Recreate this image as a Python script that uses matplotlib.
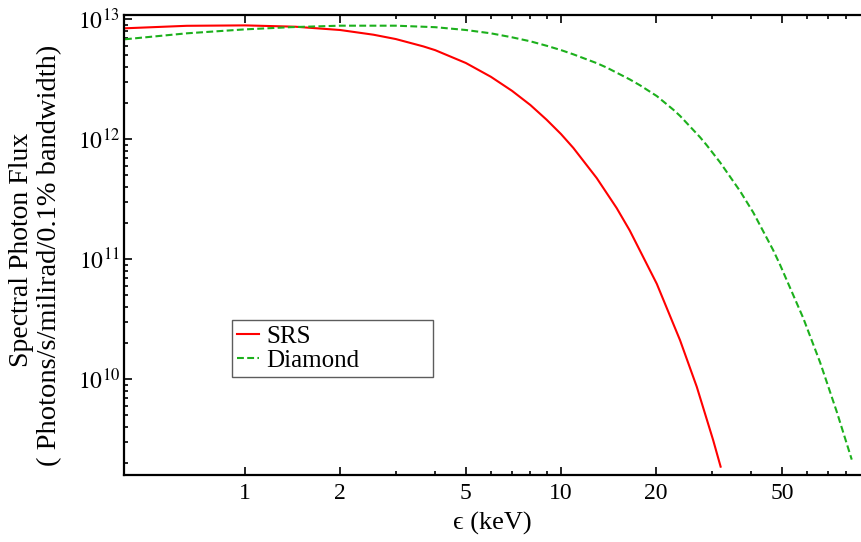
import matplotlib
matplotlib.use('Agg')
import matplotlib.pyplot as plt
from matplotlib.ticker import FixedLocator, FixedFormatter, NullFormatter

plt.rcParams['font.family'] = ['Liberation Serif', 'DejaVu Serif']
plt.rcParams['mathtext.fontset'] = 'stix'

# photon energy (keV) and flux, SRS ring
e_srs = [0.417, 0.654, 1.0, 1.44, 2.0, 2.55, 3.0, 3.67, 4.0, 5.0, 6.0, 7.0, 8.0,
         9.0, 10.0, 10.94, 12.97, 15.0, 16.5, 20.1, 23.8, 26.9, 30.3, 32.0]
f_srs = [8.37e12, 8.78e12, 8.85e12, 8.63e12, 8.10e12, 7.40e12, 6.81e12, 5.91e12,
         5.50e12, 4.30e12, 3.30e12, 2.52e12, 1.92e12, 1.45e12, 1.10e12, 8.43e11,
         4.73e11, 2.66e11, 1.73e11, 6.21e10, 2.11e10, 8.6e9, 3.1e9, 1.86e9]

# photon energy (keV) and flux, Diamond
e_dia = [0.417, 0.654, 1.0, 1.39, 2.0, 3.0, 4.0, 5.0, 6.0, 7.0, 8.0, 9.0, 10.0,
         10.94, 12.97, 13.95, 16.5, 17.8, 20.1, 22.7, 23.8, 27.5, 28.9, 31.9,
         36.9, 40.6, 46.9, 49.3, 58.4, 66.1, 74.6, 83.2]
f_dia = [6.78e12, 7.60e12, 8.20e12, 8.55e12, 8.80e12, 8.80e12, 8.55e12, 8.10e12,
         7.60e12, 7.04e12, 6.52e12, 5.99e12, 5.51e12, 5.08e12, 4.29e12, 3.94e12,
         3.14e12, 2.80e12, 2.28e12, 1.75e12, 1.56e12, 1.04e12, 8.9e11, 6.37e11,
         3.67e11, 2.44e11, 1.19e11, 9.0e10, 3.23e10, 1.37e10, 5.33e9, 2.13e9]

x_major = [1, 2, 5, 10, 20, 50]
x_minor = [3, 4, 6, 7, 8, 9, 30, 40, 60, 70, 80]
y_major = [1e10, 1e11, 1e12, 1e13]
y_labels = ['$10^{10}$', '$10^{11}$', '$10^{12}$', '$10^{13}$']

fig = plt.figure(figsize=(8.61, 5.42), dpi=100)
ax = fig.add_axes([0.144, 0.1236, 0.856, 0.8487])

ax.plot(e_srs, f_srs, color='#ff0000', lw=1.5, label='SRS')
ax.plot(e_dia, f_dia, color='#1cb01c', lw=1.5, dashes=(3.3, 1.6), label='Diamond')

ax.set_xscale('log')
ax.set_yscale('log')
ax.set_xlim(0.414, 89)
ax.set_ylim(1.585e9, 1.08e13)

ax.xaxis.set_major_locator(FixedLocator(x_major))
ax.xaxis.set_major_formatter(FixedFormatter([str(v) for v in x_major]))
ax.xaxis.set_minor_locator(FixedLocator(x_minor))
ax.xaxis.set_minor_formatter(NullFormatter())
ax.yaxis.set_major_locator(FixedLocator(y_major))
ax.yaxis.set_major_formatter(FixedFormatter(y_labels))
ax.yaxis.set_minor_locator(FixedLocator(
    [m * 10.0 ** k for k in range(9, 13) for m in range(2, 10)]))
ax.yaxis.set_minor_formatter(NullFormatter())

ax.tick_params(which='both', direction='in', top=True, right=False, width=1.2,
               labelsize=17)
ax.tick_params(axis='x', pad=6)
ax.tick_params(axis='y', pad=3)
ax.tick_params(which='major', length=6)
ax.tick_params(which='minor', length=3)
for s in ['left', 'bottom', 'top']:
    ax.spines[s].set_linewidth(1.6)
ax.spines['right'].set_visible(False)

# axis titles placed directly in figure coords
fig.text(492 / 861, 1 - 523 / 542, '\u03f5 (keV)', fontsize=19,
         ha='center', va='center')
fig.text(22 / 861, 1 - 250 / 542, 'Spectral Photon Flux', fontsize=20,
         rotation=90, ha='center', va='center')
fig.text(50 / 861, 1 - 255 / 542, '( Photons/s/milirad/0.1% bandwidth)',
         fontsize=20.5, rotation=90, ha='center', va='center')

leg = ax.legend(loc='lower left', bbox_to_anchor=(0.1465, 0.213, 0.2727, 0.12),
                mode='expand', fontsize=18, frameon=True, fancybox=False,
                handlelength=0.85, handletextpad=0.3, borderpad=0.22,
                labelspacing=0.05, borderaxespad=0)
leg.get_frame().set_edgecolor('#333333')
leg.get_frame().set_linewidth(1.0)

fig.savefig('out.png', dpi=100)
